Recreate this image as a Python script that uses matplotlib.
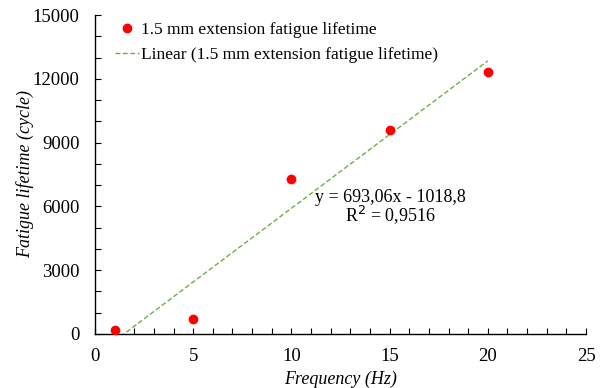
import matplotlib
matplotlib.use("Agg")
import matplotlib.pyplot as plt
import numpy as np
from matplotlib.ticker import MultipleLocator

# data
frequency = [1, 5, 10, 15, 20]
lifetime = [190, 690, 7290, 9590, 12330]
slope = 693.06
intercept = -1018.8
r_squared = "0,9516"

series_label = "1.5 mm extension fatigue lifetime"
trend_label = "Linear (1.5 mm extension fatigue lifetime)"

plt.rcParams["font.family"] = ["Liberation Serif", "DejaVu Serif"]

fig = plt.figure(figsize=(6, 3.88), dpi=100)
ax = fig.add_axes([95 / 600, 54 / 388, 491 / 600, 319 / 388])

ax.plot(frequency, lifetime, "o", color="#ff0000", markersize=6,
        label=series_label, zorder=3)

x_fit = np.array([min(frequency), max(frequency)], dtype=float)
ax.plot(x_fit, slope * x_fit + intercept, "--", color="#70AD47",
        linewidth=1.0, dashes=(3.5, 1.8), label=trend_label, zorder=2)

ax.set_xlim(0, 25)
ax.set_ylim(0, 15000)
ax.xaxis.set_major_locator(MultipleLocator(5))
ax.xaxis.set_minor_locator(MultipleLocator(1))
ax.yaxis.set_major_locator(MultipleLocator(3000))
ax.yaxis.set_minor_locator(MultipleLocator(1000))
ax.tick_params(which="both", direction="in", width=0.8, color="black")
ax.tick_params(which="major", length=4, labelsize=13.5)
ax.tick_params(axis="y", which="major", pad=11)
ax.tick_params(axis="x", which="major", pad=10)
ax.tick_params(which="minor", length=4)

for side in ("top", "right"):
    ax.spines[side].set_visible(False)
for side in ("left", "bottom"):
    ax.spines[side].set_linewidth(1.0)

ax.set_xlabel("Frequency (Hz)", fontsize=13, style="italic")
ax.set_ylabel("Fatigue lifetime (cycle)", fontsize=13, style="italic")
ax.xaxis.set_label_coords(0.5, -0.115)
ax.yaxis.set_label_coords(-0.124, 0.5)

ax.legend(loc="upper left", bbox_to_anchor=(0.02, 1.01), frameon=False,
          fontsize=12.5, handlelength=1.35, handletextpad=0.15,
          labelspacing=0.5, borderaxespad=0.2)

fig.text(390 / 600, 1 - 197 / 388,
         f"y = {slope:.2f}x - {abs(intercept):.1f}".replace(".", ","),
         fontsize=13, ha="center", va="center")
fig.text(390 / 600, 1 - 215 / 388, f"R$^2$ = {r_squared}", fontsize=13,
         ha="center", va="center")

fig.savefig("out.png", dpi=100)
